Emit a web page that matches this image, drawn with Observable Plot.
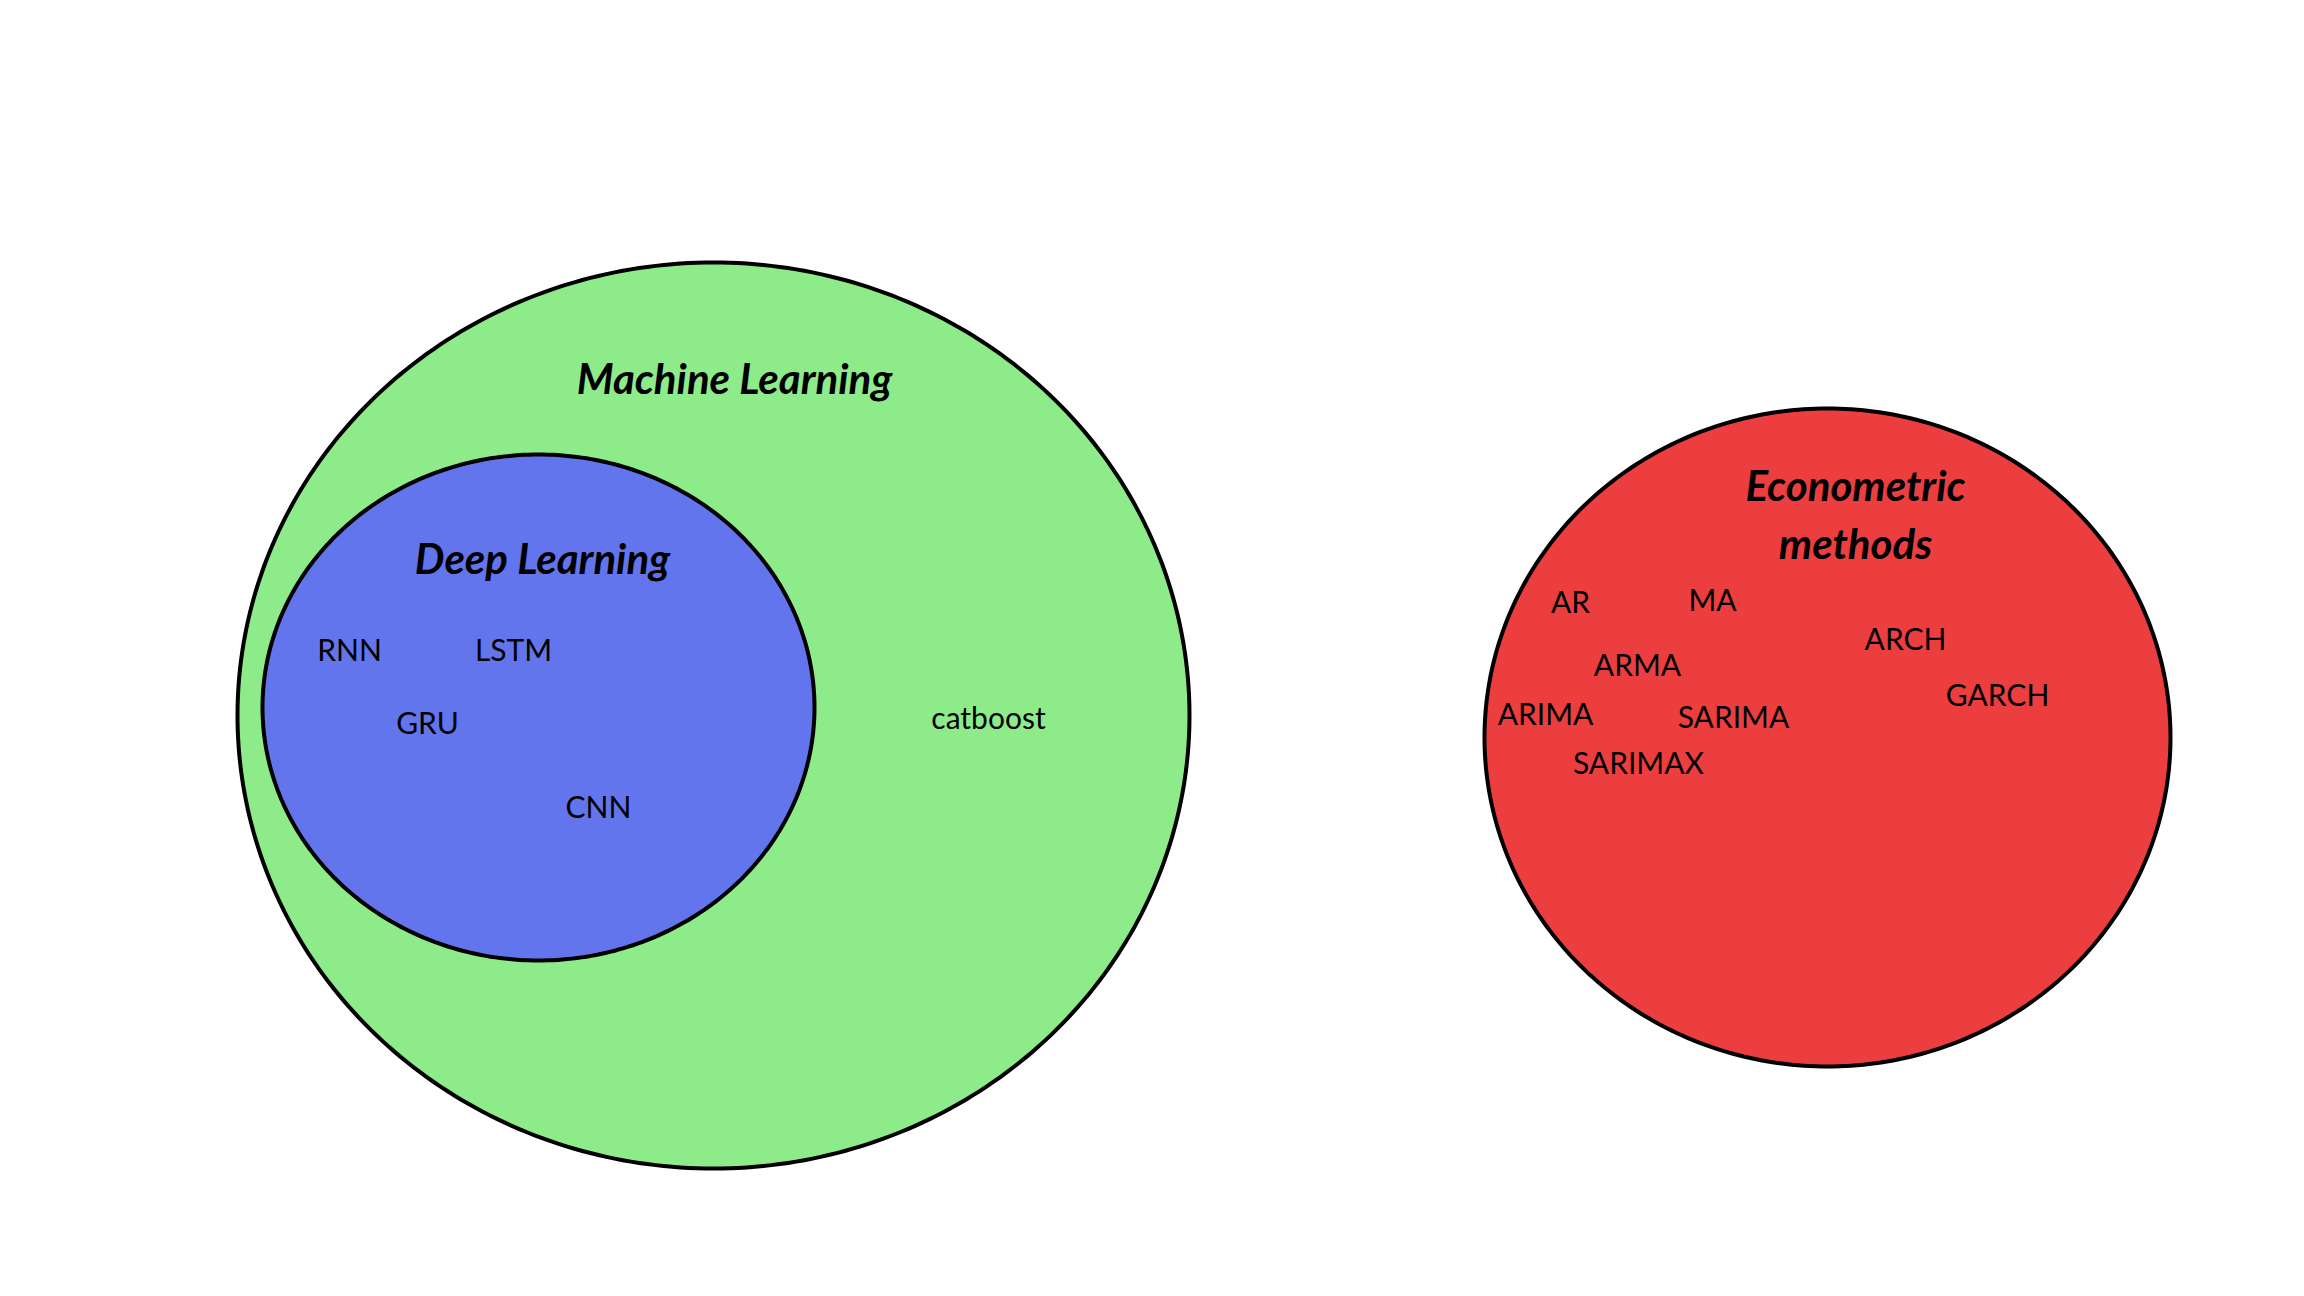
<!DOCTYPE html>
<html><head>
<script src="https://cdn.jsdelivr.net/npm/d3@7"></script>
<script src="https://cdn.jsdelivr.net/npm/@observablehq/plot@0.6"></script>
<style>body{margin:0;background:#fff}</style>
</head><body><div id="c"></div>
<script>
const setNames = ["Machine Learning", "Deep Learning", "Econometric methods"];
const setCx = [713, 538, 1827];
const setCy = [715, 707, 737];
const setRx = [476, 276, 343];
const setRy = [453, 253, 329];
const setFill = ["#8eeb8a", "#6275ec", "#ec3e3f"];

const titleText = ["Machine Learning", "Deep Learning", "Econometric", "methods"];
const titleX = [734, 542, 1855, 1855];
const titleY = [380, 560, 487, 545];

const itemText = ["RNN","LSTM","GRU","CNN","catboost","AR","MA","ARCH","ARMA","GARCH","ARIMA","SARIMA","SARIMAX"];
const itemX = [349,513,427,598,988,1570,1712,1905,1637,1997,1545,1733,1638];
const itemY = [651,651,724,808,719,603,601,640,666,696,715,718,764];

const angles = d3.range(0, 360, 1).map(a => a * Math.PI / 180);
const outline = setNames.flatMap((n, i) => angles.map(a => ({
  set: n, i, x: setCx[i] + setRx[i] * Math.cos(a), y: setCy[i] + setRy[i] * Math.sin(a)
})));
const titles = titleText.map((t, i) => ({t, x: titleX[i], y: titleY[i]}));
const items = itemText.map((t, i) => ({t, x: itemX[i], y: itemY[i]}));

const chart = Plot.plot({
  width: 2304, height: 1296, margin: 0,
  x: {domain: [0, 2304], axis: null},
  y: {domain: [0, 1296], range: [0, 1296], axis: null},
  style: {fontFamily: "Lato, sans-serif", background: "white"},
  marks: [
    ...setNames.map((n, i) => Plot.line(outline.filter(d => d.i === i), {
      x: "x", y: "y", curve: "linear-closed", fill: setFill[i], stroke: "black", strokeWidth: 4
    })),
    Plot.text(titles, {x: "x", y: "y", text: "t", fontSize: 42, fontWeight: "bold", fontStyle: "italic", fill: "black"}),
    Plot.text(items, {x: "x", y: "y", text: "t", fontSize: 30, fill: "black"})
  ]
});
document.getElementById("c").append(chart);
</script></body></html>
